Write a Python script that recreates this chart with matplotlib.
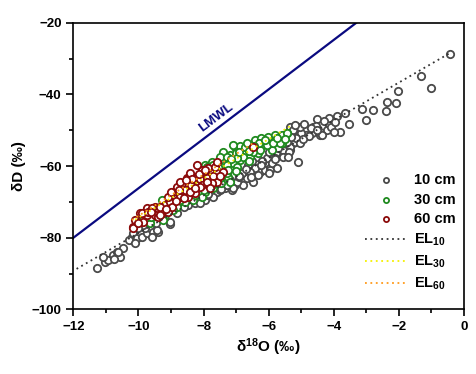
import matplotlib
matplotlib.use("Agg")
import matplotlib.pyplot as plt
import numpy as np

plt.rcParams['font.family'] = ['Liberation Sans', 'DejaVu Sans']
plt.rcParams['font.weight'] = 'bold'
plt.rcParams['mathtext.fontset'] = 'custom'
plt.rcParams['mathtext.rm'] = 'Liberation Sans:bold'
plt.rcParams['mathtext.bf'] = 'Liberation Sans:bold'
plt.rcParams['mathtext.default'] = 'rm'

# 10 cm samples (d18O, dD)
x10 = [-11.28, -11.03, -10.93, -11.08, -10.77, -10.67, -10.57, -10.47, -10.75, -10.62,
       -10.21, -10.16, -10.05, -9.95, -9.90, -9.75, -9.65, -9.80, -9.54, -9.39,
       -9.85, -10.00, -9.59, -9.03, -9.44, -8.93, -8.73, -8.42, -8.21, -8.00,
       -7.75, -7.60, -7.34, -7.14, -7.04, -6.78, -6.68, -6.47, -6.27, -6.12,
       -5.96, -5.91, -5.66, -5.55, -5.35, -5.09, -5.25, -5.14, -5.04, -4.84,
       -4.63, -4.43, -4.22, -4.17, -5.35, -5.76, -5.47, -5.60, -5.35, -5.20,
       -5.96, -6.19, -6.42, -6.58, -6.32, -6.68, -6.47, -6.78, -6.98, -6.83,
       -6.63, -6.06, -5.91, -7.09, -7.29, -6.37, -8.47, -8.27, -7.96, -7.70,
       -9.03, -3.66, -3.91, -3.54, -3.81, -4.14, -4.51, -4.55, -4.41, -4.68,
       -4.07, -4.35, -4.84, -5.00, -5.04, -5.16, -5.37, -5.45, -5.25, -5.55,
       -5.37, -5.57, -5.04, -4.76, -0.43, -1.32, -1.00, -2.04, -2.35, -2.10,
       -3.12, -2.79, -2.41, -3.00, -5.20, -7.50, -7.90, -6.90, -6.20, -5.80,
       -5.80, -6.00, -5.70, -5.50, -5.30, -4.95, -4.70, -4.50, -4.30, -3.95,
       -6.50, -6.70, -6.90, -7.20, -7.45, -7.85, -8.10, -8.60, -8.80, -9.20,
       -9.45, -10.30, -10.10, -6.25, -6.00, -5.75, -6.55, -4.90, -5.40, -4.00]
y10 = [-88.5, -86.7, -86.2, -85.3, -84.8, -83.9, -85.3, -82.9, -86.0, -84.0,
       -79.7, -78.7, -80.1, -78.3, -79.7, -78.7, -77.3, -77.3, -78.3, -78.3,
       -76.4, -77.3, -79.7, -76.1, -77.8, -71.8, -70.4, -69.9, -69.5, -69.0,
       -68.1, -67.1, -66.2, -66.7, -65.3, -63.9, -62.5, -62.5, -61.6, -61.1,
       -60.6, -59.2, -56.4, -56.0, -55.5, -58.8, -53.6, -52.2, -50.9, -49.9,
       -49.0, -51.3, -49.9, -48.1, -49.0, -56.3, -56.0, -54.6, -54.6, -53.2,
       -61.0, -59.2, -60.6, -61.6, -62.5, -63.4, -64.4, -65.3, -64.4, -62.0,
       -59.7, -57.8, -59.2, -66.2, -65.3, -57.4, -70.9, -70.4, -69.5, -68.5,
       -75.5, -45.3, -46.0, -48.3, -50.4, -46.7, -46.9, -48.8, -50.4, -50.7,
       -49.0, -51.3, -51.3, -50.9, -49.0, -52.2, -50.9, -53.2, -49.9, -55.5,
       -56.0, -57.4, -53.6, -51.7, -28.7, -34.9, -38.3, -39.0, -42.0, -42.3,
       -44.1, -44.4, -44.5, -47.1, -48.5, -66.8, -68.0, -63.0, -58.5, -57.8,
       -58.0, -56.0, -55.0, -52.0, -51.8, -52.5, -49.3, -50.0, -47.5, -47.8,
       -58.5, -60.8, -62.8, -64.0, -66.5, -67.8, -70.2, -71.5, -73.0, -74.5,
       -76.0, -80.5, -81.5, -59.8, -62.0, -60.5, -63.0, -48.2, -57.5, -50.5]

# 30 cm samples
x30 = [-5.43, -5.60, -5.60, -5.66, -5.91, -6.01, -6.17, -6.32, -6.58, -6.88,
       -7.09, -7.34, -7.75, -7.96, -7.65, -7.45, -7.24, -7.50, -7.19, -7.40,
       -7.04, -6.88, -6.73, -7.50, -7.19, -7.00, -7.90, -7.70, -7.40, -7.45,
       -7.70, -7.96, -8.06, -8.32, -8.57, -8.83, -9.19, -9.24, -9.65, -7.09,
       -6.68, -6.42, -6.22, -6.01, -5.81, -5.45, -6.06, -5.86, -6.27, -6.47,
       -6.78, -6.98, -7.29, -7.29, -6.98, -7.29, -7.50, -7.75, -8.00, -8.27,
       -8.52, -8.73, -9.03, -9.29, -9.34, -9.54, -9.75, -9.90, -8.93, -6.60,
       -6.30, -6.60, -6.90, -7.15, -7.60, -7.85, -8.15, -8.40, -8.65, -8.90,
       -9.10, -9.45, -9.60, -9.85, -6.10, -5.75, -5.50, -7.00, -7.25, -6.45]
y30 = [-50.9, -53.6, -51.3, -53.6, -55.5, -53.6, -54.1, -56.4, -57.4, -58.3,
       -59.2, -59.7, -58.8, -59.7, -60.6, -62.0, -63.0, -63.9, -64.4, -56.0,
       -54.6, -54.4, -54.8, -57.4, -56.9, -56.3, -60.2, -59.8, -62.0, -64.8,
       -66.2, -67.1, -68.5, -69.5, -69.9, -71.3, -73.6, -75.0, -75.9, -54.1,
       -53.6, -52.7, -52.2, -51.8, -51.3, -50.9, -54.1, -53.6, -55.5, -56.0,
       -57.4, -57.8, -57.4, -59.7, -60.2, -62.0, -63.4, -65.3, -66.7, -68.1,
       -68.5, -69.5, -70.4, -69.5, -71.8, -73.2, -74.1, -75.0, -72.2, -58.6,
       -53.5, -55.8, -56.0, -58.0, -61.5, -62.2, -64.2, -66.0, -67.8, -69.0,
       -71.8, -72.5, -74.3, -73.8, -52.6, -52.2, -52.5, -61.3, -61.0, -54.5]

# 60 cm samples
x60 = [-10.16, -10.10, -9.95, -9.75, -9.75, -9.49, -9.90, -9.70, -9.44, -9.49,
       -9.29, -9.19, -9.03, -8.93, -8.83, -8.67, -8.57, -8.73, -8.47, -8.37,
       -8.21, -8.16, -8.00, -7.86, -7.70, -7.60, -8.27, -8.47, -9.08, -8.98,
       -9.39, -9.85, -8.00, -7.80, -7.60, -8.10, -7.90, -7.70, -8.06, -7.75,
       -6.47, -10.16, -9.59, -9.08, -8.93, -8.83, -8.73, -8.52, -8.42, -8.06,
       -7.86, -7.65, -7.60, -9.34, -8.73, -8.42, -8.11, -7.90, -7.40, -8.21,
       -10.00, -9.60, -9.35, -9.15, -8.85, -8.60, -8.35, -8.15, -7.95, -7.50,
       -8.55, -8.75, -9.00, -8.25, -7.80]
y60 = [-76.9, -75.0, -73.2, -73.6, -71.8, -71.3, -73.2, -72.7, -71.8, -73.6,
       -73.2, -70.9, -69.9, -68.1, -66.2, -64.8, -66.7, -68.1, -63.9, -65.3,
       -63.0, -65.3, -62.5, -63.9, -62.0, -64.4, -67.6, -68.5, -72.7, -71.3,
       -74.1, -75.5, -61.6, -61.1, -61.6, -63.5, -63.4, -62.9, -65.3, -64.8,
       -54.6, -77.4, -71.8, -68.5, -67.1, -65.7, -64.4, -63.4, -62.0, -61.1,
       -60.6, -60.2, -58.8, -73.6, -68.5, -67.1, -65.7, -64.4, -61.6, -59.7,
       -75.8, -72.8, -71.5, -72.0, -69.8, -68.9, -63.5, -62.3, -61.0, -62.8,
       -64.0, -66.8, -67.2, -66.2, -66.0]

# fitted lines: slope, intercept, x range
lmwl = (6.9, 2.8, (-12.0, -3.3))
el10 = (5.25, -26.2, (-11.9, -0.4))
el30 = (5.48, -19.6, (-10.1, -5.3))
el60 = (5.76, -16.3, (-10.2, -6.4))

fig = plt.figure(figsize=(4.77, 3.74), dpi=100)
ax = fig.add_axes([0.1537, 0.1725, 0.819, 0.7668])

ms = 28
lw = 1.3
ax.scatter(x10, y10, s=ms, facecolors='white', edgecolors='#4a4a4a', linewidths=lw,
           label='10 cm', zorder=2)
ax.scatter(x30, y30, s=ms, facecolors='white', edgecolors='#1f8a1f', linewidths=lw,
           label='30 cm', zorder=3)
ax.scatter(x60, y60, s=ms, facecolors='white', edgecolors='#8b0a0a', linewidths=lw,
           label='60 cm', zorder=4)


def draw_line(p, **kw):
    xs = np.array(p[2])
    return ax.plot(xs, p[0] * xs + p[1], **kw)


draw_line(lmwl, color='#0a0a80', lw=1.6, zorder=1)
draw_line(el10, color='#333333', lw=1.3, ls=(0, (1, 2)), label='EL$_{10}$', zorder=5)
draw_line(el30, color='#f5f000', lw=1.3, ls=(0, (1, 2)), label='EL$_{30}$', zorder=6)
draw_line(el60, color='#ff9a1a', lw=1.3, ls=(0, (1, 2)), label='EL$_{60}$', zorder=6)

ax.text(-7.6, -46.6, 'LMWL', color='#0a0a80', fontsize=9.5, fontweight='bold',
        rotation=37, ha='center', va='center')

ax.set_xlim(-12, 0)
ax.set_ylim(-100, -20)
ax.set_xticks(np.arange(-12, 1, 2))
ax.set_yticks(np.arange(-100, -19, 20))
ax.set_xticks(np.arange(-11, 0, 2), minor=True)
ax.set_yticks(np.arange(-90, -20, 20), minor=True)
ax.tick_params(which='major', direction='out', length=5, width=1.2, labelsize=9.5)
ax.tick_params(which='minor', direction='out', length=3, width=1.2)
for s in ax.spines.values():
    s.set_linewidth(1.2)

ax.set_xlabel(r'δ$^{18}$O (‰)', fontsize=11, fontweight='bold', labelpad=2)
ax.set_ylabel('δD (‰)', fontsize=11, fontweight='bold', labelpad=4)

leg = ax.legend(loc='lower right', bbox_to_anchor=(1.005, 0.025), frameon=False,
                fontsize=10.5, handlelength=2.9, handletextpad=0.45, labelspacing=0.38,
                markerscale=0.7, borderaxespad=0.3)

fig.savefig('out.png', dpi=100)
